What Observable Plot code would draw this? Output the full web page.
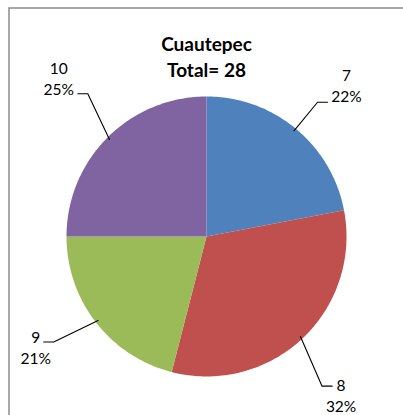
<!DOCTYPE html>
<html><head><meta charset="utf-8">
<script src="https://cdn.jsdelivr.net/npm/d3@7"></script>
<script src="https://cdn.jsdelivr.net/npm/@observablehq/plot@0.6"></script>
<style>html,body{margin:0;padding:0;background:#fff;overflow:hidden}</style>
</head><body><div id="chart"></div>
<script>
// ---- data ----
const categories = ["7", "8", "9", "10"];
const percents = [22, 32, 21, 25];
const titleLines = ["Cuautepec", "Total= 28"];
const colors = ["#4F81BD", "#C0504D", "#9BBB59", "#8064A2"];

// ---- layout (pixels) ----
const W = 403, H = 415, R = 140;
const elbowNudge = [[-5, 6], [-9, 17], [-9, -6], [10, -14]];
const labelShift = [[19, -21], [9, 5], [-8, 1], [-19, -20]]; // leader end -> label centre x / first baseline
const lineGap = 21;

const arcs = d3.pie().sort(null).value(d => d)(percents);

const slicePts = [];
const leaderPts = [];
const labels = [];
arcs.forEach((a, i) => {
  const cat = categories[i];
  const n = Math.max(2, Math.ceil((a.endAngle - a.startAngle) / (Math.PI / 180)));
  slicePts.push({cat, x: 0, y: 0});
  for (let k = 0; k <= n; k++) {
    const t = a.startAngle + (a.endAngle - a.startAngle) * k / n;
    slicePts.push({cat, x: Math.sin(t), y: Math.cos(t)});
  }
  slicePts.push({cat, x: 0, y: 0});

  const m = (a.startAngle + a.endAngle) / 2;
  const side = Math.sin(m) >= 0 ? 1 : -1;
  const e = {x: 0.98 * Math.sin(m), y: 0.98 * Math.cos(m)};
  const p = {x: 1.3 * Math.sin(m) + elbowNudge[i][0] / R, y: 1.3 * Math.cos(m) - elbowNudge[i][1] / R};
  const q = {x: p.x + side * 10 / R, y: p.y};
  leaderPts.push({cat, ...e}, {cat, ...p}, {cat, ...q});
  const cx = q.x + labelShift[i][0] / R;
  const b1 = q.y - labelShift[i][1] / R; // first baseline (data units, y up)
  labels.push({
    cat,
    pct: percents[i] + "%",
    x: cx,
    y1: b1 + 5 / R,
    y2: b1 - lineGap / R + 5 / R
  });
});

const chart = Plot.plot({
  width: W, height: H,
  marginLeft: 66, marginRight: 57, marginTop: 96, marginBottom: 39,
  x: {domain: [-1, 1], axis: null},
  y: {domain: [-1, 1], axis: null},
  color: {domain: categories, range: colors},
  style: {fontFamily: "Lato, 'Open Sans', sans-serif", background: "white", color: "black"},
  marks: [
    Plot.frame({stroke: "#8c8c8c", strokeWidth: 1.5, insetLeft: -57.5, insetTop: -88.5, insetRight: -80, insetBottom: -80}),
    Plot.line(slicePts, {x: "x", y: "y", z: "cat", fill: "cat", stroke: null, curve: "linear"}),
    Plot.line(leaderPts, {x: "x", y: "y", z: "cat", stroke: "black", strokeWidth: 1.1}),
    Plot.text(labels, {x: "x", y: "y1", text: "cat", fontSize: 15.5, fill: "black", textAnchor: "middle"}),
    Plot.text(labels, {x: "x", y: "y2", text: "pct", fontSize: 15.5, fill: "black", textAnchor: "middle"}),
    Plot.text([titleLines.join("\n")], {frameAnchor: "top", lineAnchor: "top", dy: -64, fontSize: 19, fontWeight: "bold", lineHeight: 1.37, fill: "black"})
  ]
});
document.getElementById("chart").appendChild(chart);
</script>
</body></html>
